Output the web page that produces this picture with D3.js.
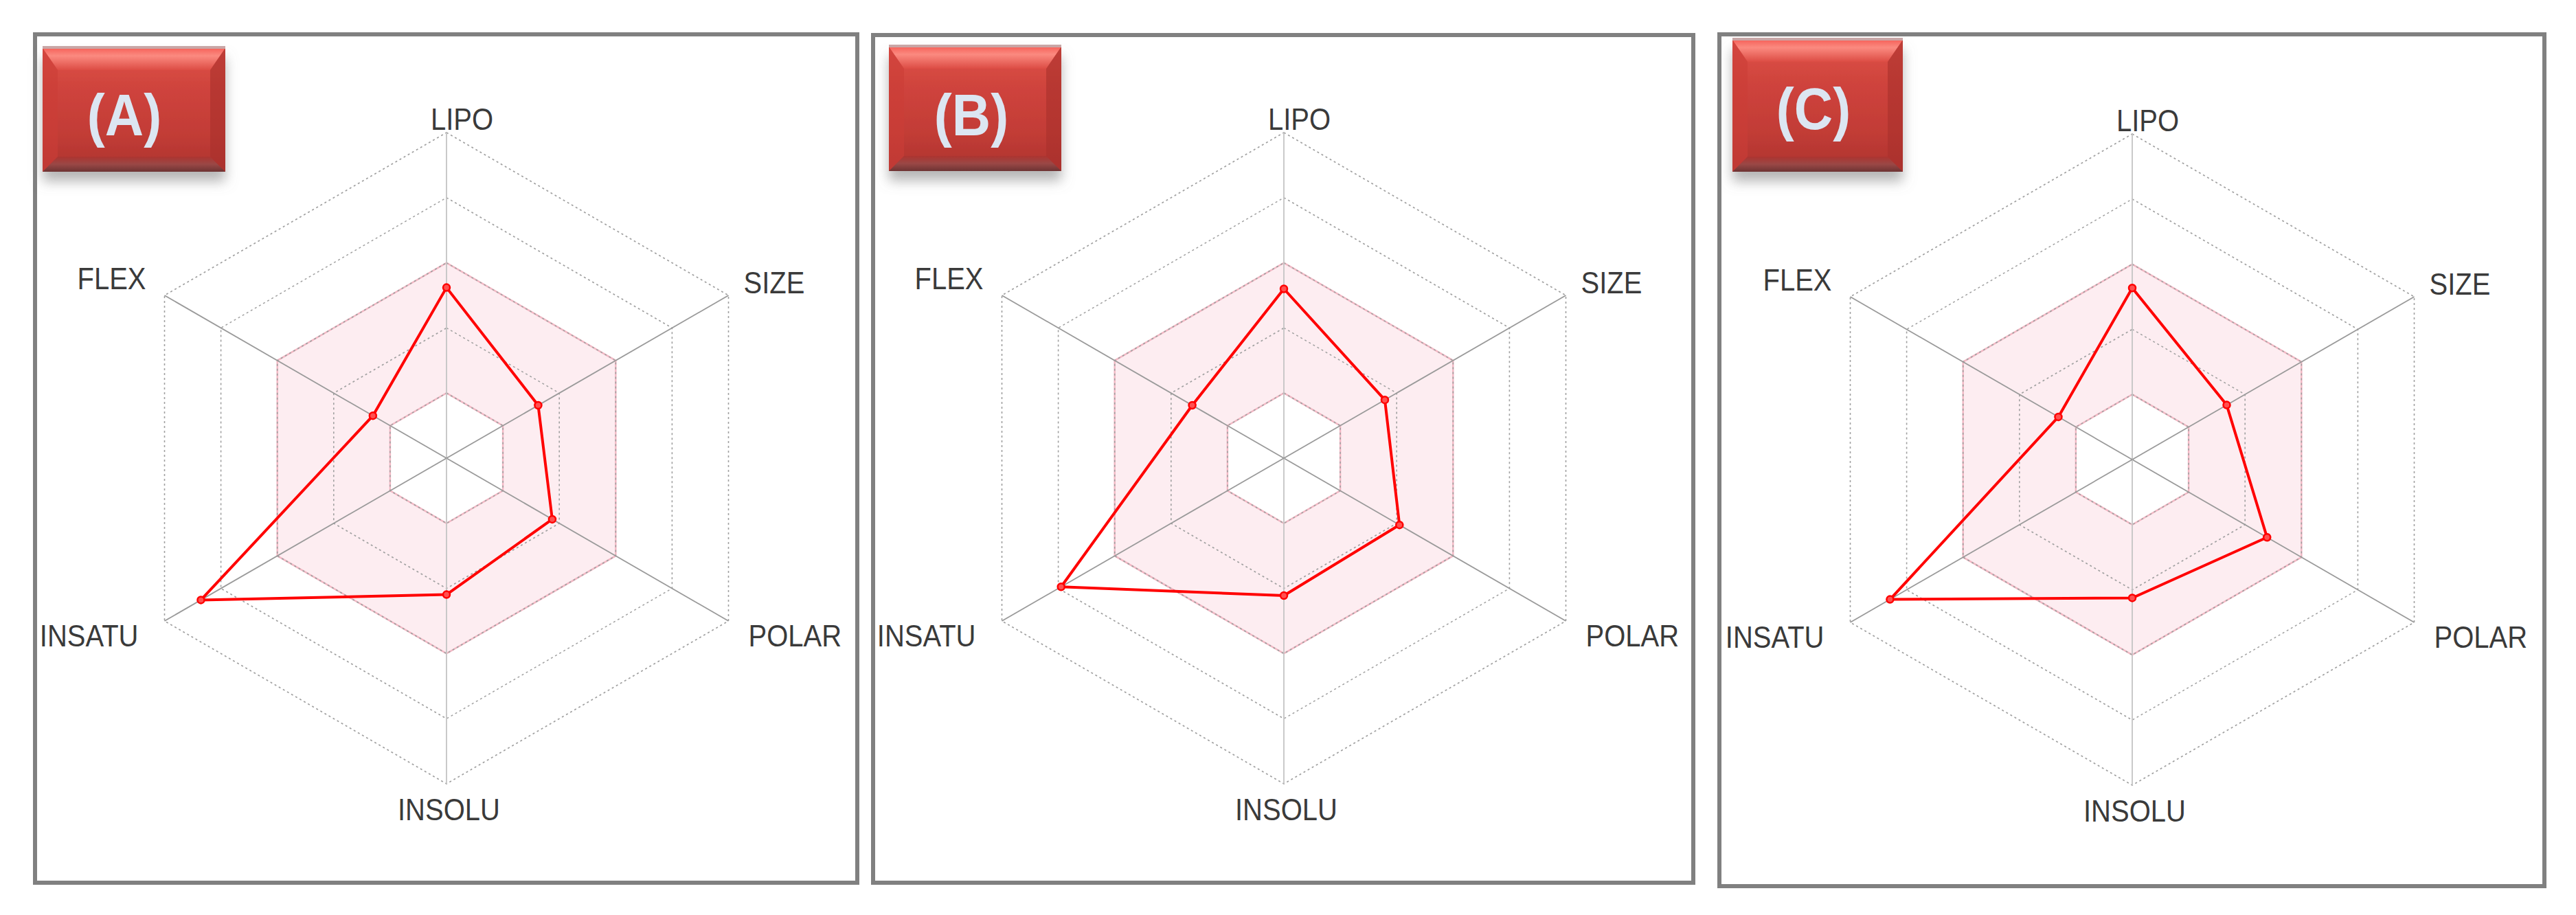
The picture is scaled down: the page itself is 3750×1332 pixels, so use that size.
<!DOCTYPE html>
<html>
<head>
<meta charset="utf-8">
<script src="https://cdn.jsdelivr.net/npm/d3@7"></script>
<style>
  body { margin: 0; background: #fff; }
  #chart svg { display: block; }
</style>
</head>
<body>
<div id="chart"></div>
<script>
(function () {
  // data
  const axes = ["LIPO", "SIZE", "POLAR", "INSOLU", "INSATU", "FLEX"];
  const panelNames = ["(A)", "(B)", "(C)"];
  const valuesA = [0.524, 0.325, 0.375, 0.419, 0.871, 0.261];
  const valuesB = [0.52, 0.358, 0.41, 0.422, 0.79, 0.325];
  const valuesC = [0.527, 0.335, 0.478, 0.425, 0.859, 0.262];
  const levels = [0.2, 0.4, 0.6, 0.8, 1.0];
  const optimalRange = [0.2, 0.6];

  const width = 3750;
  const height = 1332;
  const R = 474;

  // layout for each panel
  const panels = [
    { name: panelNames[0], values: valuesA, frame: [48, 47, 1203, 1241], cx: 650, cy: 667, badge: [62, 70, 266, 180], textX: 181, textY: 197 },
    { name: panelNames[1], values: valuesB, frame: [1268, 48, 1200, 1240], cx: 1869, cy: 667, badge: [1294, 68, 251, 181], textX: 1414, textY: 197 },
    { name: panelNames[2], values: valuesC, frame: [2500, 47, 1207, 1246], cx: 3104, cy: 669, badge: [2522, 58, 248, 192], textX: 2640, textY: 188 },
  ];

  // label placement relative to the outer vertex of each axis
  const labelOffsets = [
    { dx: -23, dy: -4, anchor: "start" },
    { dx: 22, dy: -3, anchor: "start" },
    { dx: 29, dy: 37, anchor: "start" },
    { dx: -71, dy: 53, anchor: "start" },
    { dx: -38, dy: 37, anchor: "end" },
    { dx: -27, dy: -9, anchor: "end" },
  ];

  const svg = d3.select("#chart").append("svg").attr("width", width).attr("height", height);
  svg.append("rect").attr("width", width).attr("height", height).attr("fill", "#fff");

  const defs = svg.append("defs");

  const grad = defs.append("linearGradient").attr("id", "badgeGrad").attr("x1", 0).attr("x2", 0).attr("y1", 0).attr("y2", 1);
  [
    [0, "#e0544b"],
    [0.3, "#d0443d"],
    [0.7, "#c23c36"],
    [1, "#ad332f"],
  ].forEach(([o, c]) => grad.append("stop").attr("offset", o).attr("stop-color", c));

  const topGrad = defs.append("linearGradient").attr("id", "badgeTop").attr("x1", 0).attr("x2", 0).attr("y1", 0).attr("y2", 1);
  [
    [0, "#f6625a"],
    [0.35, "#fb8a80"],
    [1, "#dc4c44"],
  ].forEach(([o, c]) => topGrad.append("stop").attr("offset", o).attr("stop-color", c));

  const botGrad = defs.append("linearGradient").attr("id", "badgeBot").attr("x1", 0).attr("x2", 0).attr("y1", 0).attr("y2", 1);
  [
    [0, "#ad3430"],
    [0.5, "#9a4846"],
    [1, "#6d3333"],
  ].forEach(([o, c]) => botGrad.append("stop").attr("offset", o).attr("stop-color", c));

  const shadow = defs.append("filter").attr("id", "badgeShadow").attr("x", "-20%").attr("y", "-20%").attr("width", "140%").attr("height", "160%");
  shadow
    .append("feDropShadow")
    .attr("dx", 0)
    .attr("dy", 14)
    .attr("stdDeviation", 9)
    .attr("flood-color", "#7a7a7a")
    .attr("flood-opacity", 0.55);

  const angle = d3.scaleLinear().domain([0, axes.length]).range([0, 2 * Math.PI]);
  const rScale = d3.scaleLinear().domain([0, 1]).range([0, R]);

  const hexLine = d3
    .lineRadial()
    .angle((d, i) => angle(i))
    .radius(d => rScale(d))
    .curve(d3.curveLinearClosed);

  const point = (i, v) => [rScale(v) * Math.sin(angle(i)), -rScale(v) * Math.cos(angle(i))];

  const panelGroups = svg.selectAll(".panel").data(panels).join("g").attr("class", "panel");

  // frames
  panelGroups
    .append("rect")
    .attr("x", d => d.frame[0] + 3)
    .attr("y", d => d.frame[1] + 3)
    .attr("width", d => d.frame[2] - 6)
    .attr("height", d => d.frame[3] - 6)
    .attr("fill", "none")
    .attr("stroke", "#808080")
    .attr("stroke-width", 6);

  const radar = panelGroups.append("g").attr("transform", d => `translate(${d.cx}, ${d.cy})`);

  // optimal range band
  radar
    .append("path")
    .attr("d", () => hexLine(axes.map(() => optimalRange[1])) + hexLine(axes.map(() => optimalRange[0])))
    .attr("fill", "#fdedf1")
    .attr("fill-rule", "evenodd")
    .attr("stroke", "#f3b9c5")
    .attr("stroke-width", 2.5);

  // rings
  radar
    .selectAll(".ring")
    .data(levels)
    .join("path")
    .attr("class", "ring")
    .attr("d", lv => hexLine(axes.map(() => lv)))
    .attr("fill", "none")
    .attr("stroke", "#a0a0a0")
    .attr("stroke-width", 1.6)
    .attr("stroke-dasharray", "3,4");

  // spokes
  radar
    .selectAll(".spoke")
    .data(axes)
    .join("line")
    .attr("class", "spoke")
    .attr("x1", 0)
    .attr("y1", 0)
    .attr("x2", (d, i) => point(i, 1)[0])
    .attr("y2", (d, i) => point(i, 1)[1])
    .attr("stroke", (d, i) => (i % 3 === 0 ? "#c4c4c4" : "#9a9a9a"))
    .attr("stroke-width", 1.8);

  // axis labels
  radar
    .selectAll(".axisLabel")
    .data(axes)
    .join("text")
    .attr("class", "axisLabel")
    .attr("transform", (d, i) => {
      const [x, y] = point(i, 1);
      return `translate(${x + labelOffsets[i].dx}, ${y + labelOffsets[i].dy}) scale(1, 1.1)`;
    })
    .attr("text-anchor", (d, i) => labelOffsets[i].anchor)
    .attr("font-family", "Liberation Sans, Arial, sans-serif")
    .attr("font-size", "40px")
    .attr("fill", "#3a3a3a")
    .text(d => d);

  // data polygon
  radar
    .append("path")
    .attr("d", d => hexLine(d.values))
    .attr("fill", "none")
    .attr("stroke", "#ff0000")
    .attr("stroke-width", 4)
    .attr("stroke-linejoin", "round");

  radar
    .selectAll(".dot")
    .data(d => d.values)
    .join("circle")
    .attr("class", "dot")
    .attr("cx", (v, i) => point(i, v)[0])
    .attr("cy", (v, i) => point(i, v)[1])
    .attr("r", 5)
    .attr("fill", "#ff5050")
    .attr("stroke", "#ff0000")
    .attr("stroke-width", 2.5);

  // badges
  const badge = panelGroups.append("g");

  badge
    .append("rect")
    .attr("x", d => d.badge[0])
    .attr("y", d => d.badge[1])
    .attr("width", d => d.badge[2])
    .attr("height", d => d.badge[3])
    .attr("fill", "url(#badgeGrad)")
    .attr("filter", "url(#badgeShadow)");

  const bevel = 22;
  badge
    .append("polygon")
    .attr("points", d => {
      const [x, y, w] = d.badge;
      return [[x, y], [x + w, y], [x + w - bevel, y + bevel + 10], [x + bevel, y + bevel + 10]].join(" ");
    })
    .attr("fill", "url(#badgeTop)");

  badge
    .append("polygon")
    .attr("points", d => {
      const [x, y, w, h] = d.badge;
      return [[x, y + h], [x + w, y + h], [x + w - bevel, y + h - bevel], [x + bevel, y + h - bevel]].join(" ");
    })
    .attr("fill", "url(#badgeBot)");

  badge
    .append("polygon")
    .attr("points", d => {
      const [x, y, w, h] = d.badge;
      return [[x, y], [x + bevel, y + bevel + 10], [x + bevel, y + h - bevel], [x, y + h]].join(" ");
    })
    .attr("fill", "#cc3d37")
    .attr("opacity", 0.6);

  badge
    .append("polygon")
    .attr("points", d => {
      const [x, y, w, h] = d.badge;
      return [[x + w, y], [x + w - bevel, y + bevel + 10], [x + w - bevel, y + h - bevel], [x + w, y + h]].join(" ");
    })
    .attr("fill", "#a9302c")
    .attr("opacity", 0.6);

  badge
    .append("rect")
    .attr("x", d => d.badge[0])
    .attr("y", d => d.badge[1] - 3)
    .attr("width", d => d.badge[2])
    .attr("height", 4)
    .attr("fill", "#c9a6a6");

  badge
    .append("text")
    .attr("transform", d => `translate(${d.textX}, ${d.textY}) scale(1, 1.1)`)
    .attr("text-anchor", "middle")
    .attr("font-family", "Liberation Sans, Arial, sans-serif")
    .attr("font-weight", "bold")
    .attr("font-size", "78px")
    .attr("fill", "#dce6f2")
    .text(d => d.name);
})();
</script>
</body>
</html>
